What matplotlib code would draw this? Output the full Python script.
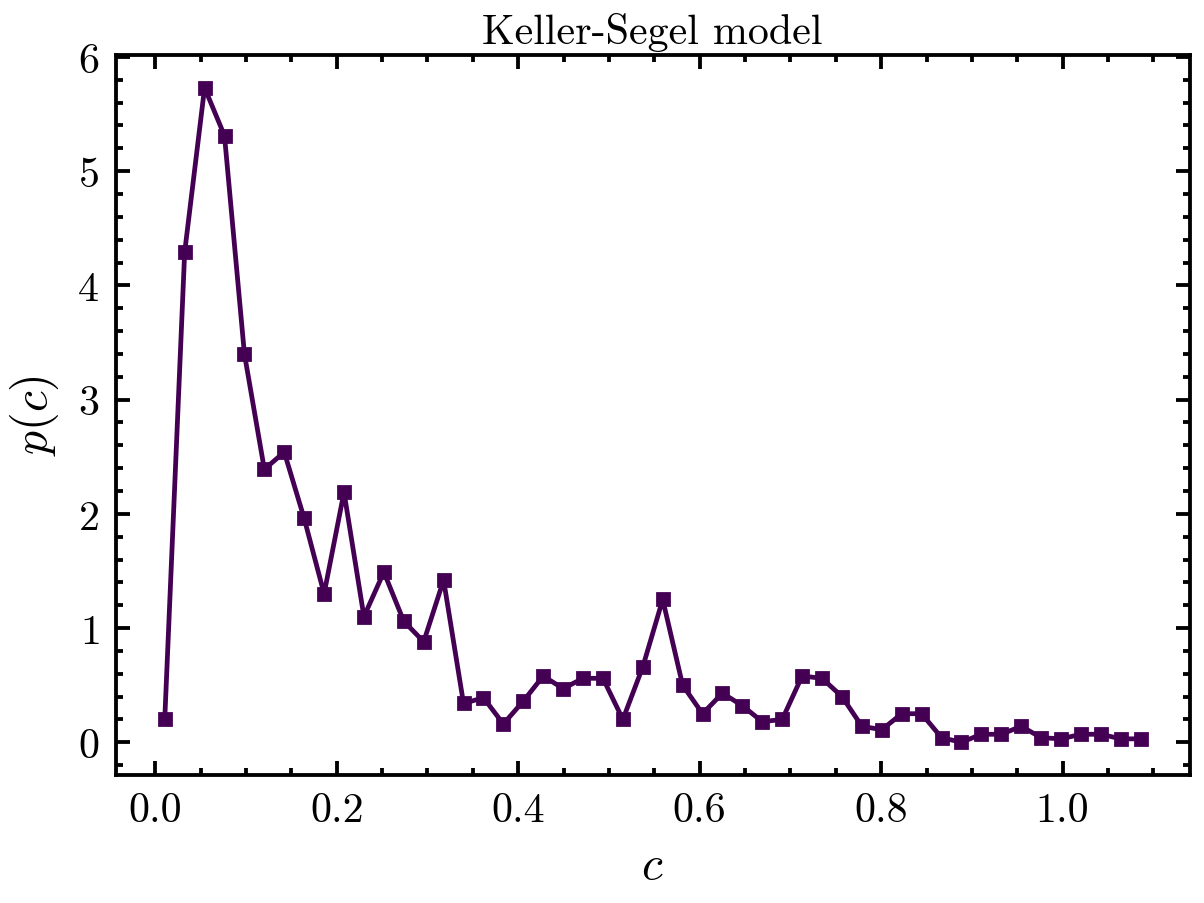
import numpy as np
import matplotlib
matplotlib.use("Agg")
import matplotlib.pyplot as plt
from matplotlib.ticker import MultipleLocator

# ===============================
# Data
# ===============================
c_start = 0.0105
c_step = 0.02195
p_values = [0.20, 4.29, 5.73, 5.31, 3.40, 2.39, 2.54, 1.96, 1.30, 2.19,
            1.10, 1.49, 1.06, 0.88, 1.42, 0.34, 0.39, 0.16, 0.36, 0.58,
            0.47, 0.56, 0.56, 0.20, 0.66, 1.25, 0.50, 0.25, 0.43, 0.32,
            0.18, 0.20, 0.58, 0.56, 0.40, 0.14, 0.11, 0.25, 0.25, 0.04,
            0.00, 0.07, 0.07, 0.14, 0.04, 0.03, 0.07, 0.07, 0.03, 0.03]
c_values = c_start + c_step * np.arange(len(p_values))

title = "Keller-Segel model"
xlabel = r"$c$"
ylabel = r"$p(c)$"

# ===============================
# Style
# ===============================
plt.rcParams["font.family"] = "cmr10"
plt.rcParams["mathtext.fontset"] = "cm"
plt.rcParams["axes.formatter.use_mathtext"] = True
plt.rcParams["axes.unicode_minus"] = False

fig = plt.figure(figsize=(3.5, 904 / 344), dpi=344)
ax = fig.add_axes([0.0963, 0.1416, 0.988 - 0.0963, 0.938 - 0.1416])

ax.plot(c_values, p_values, color="#440154", lw=1.0,
        marker="s", markersize=2.0)

ax.set_title(title, fontsize=8.8, pad=2.5)
ax.set_xlabel(xlabel, fontsize=10, labelpad=3)
ax.set_ylabel(ylabel, fontsize=10, labelpad=3.4)

ax.xaxis.set_major_locator(MultipleLocator(0.2))
ax.xaxis.set_minor_locator(MultipleLocator(0.05))
ax.yaxis.set_major_locator(MultipleLocator(1))
ax.yaxis.set_minor_locator(MultipleLocator(0.2))
ax.xaxis.set_major_formatter(plt.FuncFormatter(lambda v, _: f"{v:.1f}"))

ax.tick_params(which="both", direction="in", top=True, right=True,
               labelsize=8.8, width=0.8)
ax.tick_params(which="major", length=3)
ax.tick_params(which="minor", length=1.5)
for s in ax.spines.values():
    s.set_linewidth(0.8)

fig.savefig("out.png", dpi=344)
